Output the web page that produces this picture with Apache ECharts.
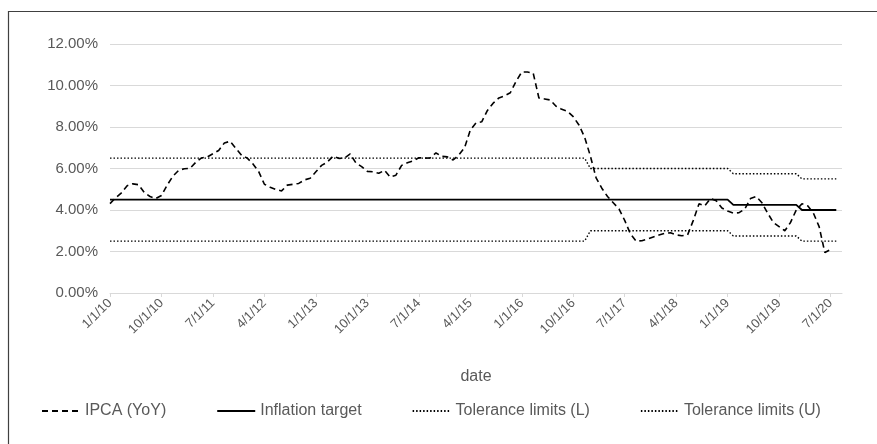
<!DOCTYPE html>
<html>
<head>
<meta charset="utf-8">
<script src="https://cdn.jsdelivr.net/npm/echarts@6/dist/echarts.min.js"></script>
<style>
html,body{margin:0;padding:0;background:#fff;}
#chart{width:877px;height:444px;}
</style>
</head>
<body>
<div id="chart"></div>
<script>
// Monthly categories Jan 2010 .. Sep 2020 (tick labels shown every 9 months)
var years = [10,11,12,13,14,15,16,17,18,19,20];
var categories = [];
for (var yi = 0; yi < years.length; yi++) {
  for (var m = 1; m <= 12; m++) {
    if (years[yi] === 20 && m > 9) break;
    categories.push(m + '/1/' + years[yi]);
  }
}

// IPCA (YoY), %, Jan 2010 .. Jul 2020
var ipca = [
  4.31, 4.59, 4.83, 5.17, 5.26, 5.22, 4.84, 4.65, 4.55, 4.70, 5.20, 5.63,
  5.91, 5.99, 6.01, 6.30, 6.51, 6.55, 6.71, 6.87, 7.23, 7.31, 6.97, 6.64,
  6.50, 6.22, 5.85, 5.24, 5.10, 4.99, 4.92, 5.20, 5.24, 5.28, 5.45, 5.53,
  5.84, 6.15, 6.31, 6.59, 6.49, 6.50, 6.70, 6.27, 6.09, 5.86, 5.84, 5.77,
  5.91, 5.59, 5.68, 6.15, 6.28, 6.37, 6.52, 6.50, 6.51, 6.75, 6.59, 6.56,
  6.41, 6.65, 7.00, 7.85, 8.20, 8.25, 8.80, 9.15, 9.40, 9.50, 9.65, 10.20,
  10.65, 10.65, 10.60, 9.40, 9.35, 9.30, 9.00, 8.85, 8.75, 8.50, 8.10, 7.50,
  6.60, 5.55, 5.05, 4.65, 4.35, 4.05, 3.50, 2.85, 2.50, 2.52, 2.60, 2.70,
  2.80, 2.88, 2.90, 2.80, 2.76, 2.80, 3.50, 4.30, 4.20, 4.55, 4.45, 4.10,
  3.95, 3.85, 3.87, 4.05, 4.55, 4.65, 4.35, 3.85, 3.40, 3.20, 3.00, 3.40,
  4.00, 4.30, 4.20, 3.85, 3.20, 1.95, 2.10
];

// Inflation target, % — Jan 2010 .. Aug 2020
var target = [
  4.5,4.5,4.5,4.5,4.5,4.5,4.5,4.5,4.5,4.5,4.5,4.5,
  4.5,4.5,4.5,4.5,4.5,4.5,4.5,4.5,4.5,4.5,4.5,4.5,
  4.5,4.5,4.5,4.5,4.5,4.5,4.5,4.5,4.5,4.5,4.5,4.5,
  4.5,4.5,4.5,4.5,4.5,4.5,4.5,4.5,4.5,4.5,4.5,4.5,
  4.5,4.5,4.5,4.5,4.5,4.5,4.5,4.5,4.5,4.5,4.5,4.5,
  4.5,4.5,4.5,4.5,4.5,4.5,4.5,4.5,4.5,4.5,4.5,4.5,
  4.5,4.5,4.5,4.5,4.5,4.5,4.5,4.5,4.5,4.5,4.5,4.5,
  4.5,4.5,4.5,4.5,4.5,4.5,4.5,4.5,4.5,4.5,4.5,4.5,
  4.5,4.5,4.5,4.5,4.5,4.5,4.5,4.5,4.5,4.5,4.5,4.5,
  4.5,4.25,4.25,4.25,4.25,4.25,4.25,4.25,4.25,4.25,4.25,4.25,
  4.25,4.0,4.0,4.0,4.0,4.0,4.0,4.0
];

// Tolerance limits (L), %
var tolLow = [
  2.5,2.5,2.5,2.5,2.5,2.5,2.5,2.5,2.5,2.5,2.5,2.5,
  2.5,2.5,2.5,2.5,2.5,2.5,2.5,2.5,2.5,2.5,2.5,2.5,
  2.5,2.5,2.5,2.5,2.5,2.5,2.5,2.5,2.5,2.5,2.5,2.5,
  2.5,2.5,2.5,2.5,2.5,2.5,2.5,2.5,2.5,2.5,2.5,2.5,
  2.5,2.5,2.5,2.5,2.5,2.5,2.5,2.5,2.5,2.5,2.5,2.5,
  2.5,2.5,2.5,2.5,2.5,2.5,2.5,2.5,2.5,2.5,2.5,2.5,
  2.5,2.5,2.5,2.5,2.5,2.5,2.5,2.5,2.5,2.5,2.5,2.5,
  3.0,3.0,3.0,3.0,3.0,3.0,3.0,3.0,3.0,3.0,3.0,3.0,
  3.0,3.0,3.0,3.0,3.0,3.0,3.0,3.0,3.0,3.0,3.0,3.0,
  3.0,2.75,2.75,2.75,2.75,2.75,2.75,2.75,2.75,2.75,2.75,2.75,
  2.75,2.5,2.5,2.5,2.5,2.5,2.5,2.5
];

// Tolerance limits (U), %
var tolHigh = [
  6.5,6.5,6.5,6.5,6.5,6.5,6.5,6.5,6.5,6.5,6.5,6.5,
  6.5,6.5,6.5,6.5,6.5,6.5,6.5,6.5,6.5,6.5,6.5,6.5,
  6.5,6.5,6.5,6.5,6.5,6.5,6.5,6.5,6.5,6.5,6.5,6.5,
  6.5,6.5,6.5,6.5,6.5,6.5,6.5,6.5,6.5,6.5,6.5,6.5,
  6.5,6.5,6.5,6.5,6.5,6.5,6.5,6.5,6.5,6.5,6.5,6.5,
  6.5,6.5,6.5,6.5,6.5,6.5,6.5,6.5,6.5,6.5,6.5,6.5,
  6.5,6.5,6.5,6.5,6.5,6.5,6.5,6.5,6.5,6.5,6.5,6.5,
  6.0,6.0,6.0,6.0,6.0,6.0,6.0,6.0,6.0,6.0,6.0,6.0,
  6.0,6.0,6.0,6.0,6.0,6.0,6.0,6.0,6.0,6.0,6.0,6.0,
  6.0,5.75,5.75,5.75,5.75,5.75,5.75,5.75,5.75,5.75,5.75,5.75,
  5.75,5.5,5.5,5.5,5.5,5.5,5.5,5.5
];

var seriesNames = ['IPCA (YoY)', 'Inflation target', 'Tolerance limits (L)', 'Tolerance limits (U)'];

var txt = '#595959';
var fontFam = '"Liberation Sans", Arial, sans-serif';
var chart = echarts.init(document.getElementById('chart'), null, {renderer: 'canvas'});
chart.setOption({
  animation: false,
  backgroundColor: '#ffffff',
  textStyle: {fontFamily: fontFam},
  graphic: [{
    type: 'rect',
    shape: {x: 8.5, y: 11.5, width: 1000, height: 1000},
    style: {fill: 'none', stroke: '#404040', lineWidth: 1.2},
    silent: true
  }],
  grid: {left: 110, right: 35, top: 44, bottom: 151, containLabel: false},
  legend: {
    data: seriesNames,
    left: 36,
    top: 398,
    itemWidth: 38,
    itemHeight: 10,
    itemGap: 50,
    itemStyle: {opacity: 0},
    textStyle: {color: txt, fontSize: 16, fontFamily: fontFam}
  },
  xAxis: {
    type: 'category',
    data: categories,
    boundaryGap: false,
    name: 'date',
    nameLocation: 'middle',
    nameGap: 76,
    nameTextStyle: {color: txt, fontSize: 16},
    axisLine: {lineStyle: {color: '#d9d9d9', width: 1}},
    axisTick: {show: true, interval: 8, length: 4, lineStyle: {color: '#d9d9d9'}},
    axisLabel: {interval: 8, rotate: 45, color: txt, fontSize: 13, margin: 8},
    splitLine: {show: false}
  },
  yAxis: {
    type: 'value',
    min: 0,
    max: 12,
    interval: 2,
    axisLine: {show: false},
    axisTick: {show: false},
    axisLabel: {color: txt, fontSize: 15, margin: 12, formatter: function (v) { return v.toFixed(2) + '%'; }},
    splitLine: {lineStyle: {color: '#d9d9d9', width: 1}}
  },
  series: [
    {name: seriesNames[0], type: 'line', data: ipca, symbol: 'none', z: 5,
     lineStyle: {color: '#000', width: 1.6, type: [6, 4]}, itemStyle: {color: '#000'}},
    {name: seriesNames[1], type: 'line', data: target, symbol: 'none', z: 4,
     lineStyle: {color: '#000', width: 1.8, type: 'solid'}, itemStyle: {color: '#000'}},
    {name: seriesNames[2], type: 'line', data: tolLow, symbol: 'none', z: 3,
     lineStyle: {color: '#000', width: 1.4, type: [1.5, 2]}, itemStyle: {color: '#000'}},
    {name: seriesNames[3], type: 'line', data: tolHigh, symbol: 'none', z: 3,
     lineStyle: {color: '#000', width: 1.4, type: [1.5, 2]}, itemStyle: {color: '#000'}}
  ]
});
</script>
</body>
</html>
